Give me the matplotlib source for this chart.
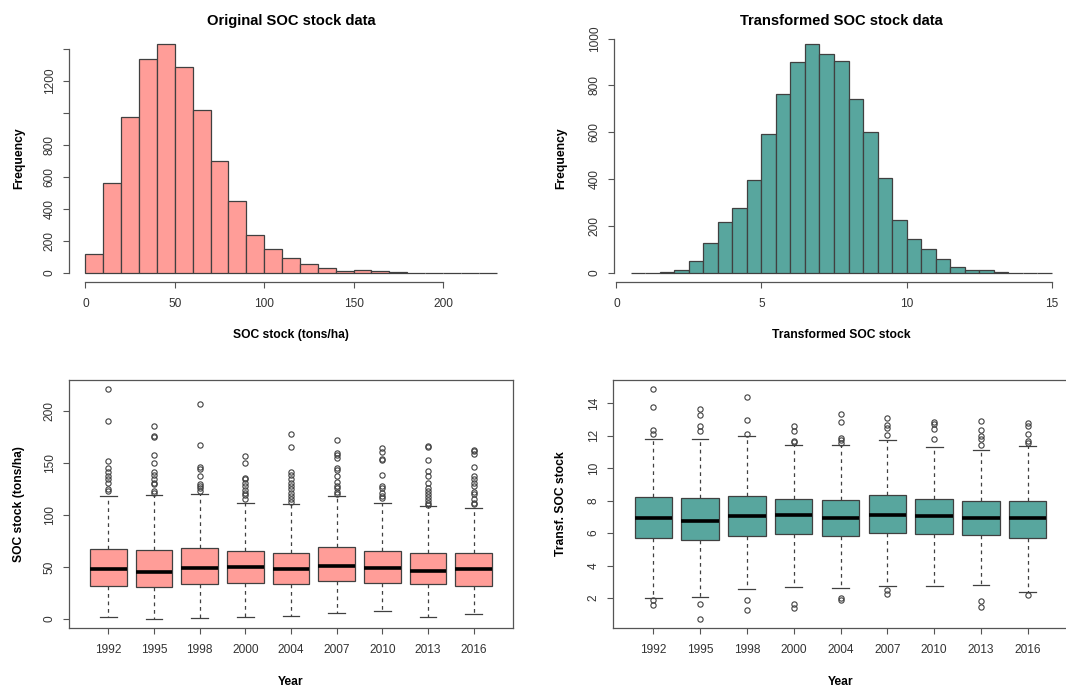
import numpy as np
import matplotlib
matplotlib.use('Agg')
import matplotlib.pyplot as plt

plt.rcParams['font.family'] = ['Liberation Sans', 'DejaVu Sans']

# histogram data (bin breaks + counts)
soc_breaks = list(range(0, 240, 10))
soc_counts = [115, 565, 975, 1337, 1431, 1290, 1017, 702, 450, 235, 148, 92,
              58, 29, 10, 17, 10, 4, 1, 0, 1, 0, 1]
tr_breaks = [0.5 + 0.5 * i for i in range(30)]
tr_counts = [0, 1, 3, 11, 50, 128, 219, 276, 398, 591, 763, 898, 976, 935, 906,
             744, 599, 403, 227, 146, 101, 57, 26, 13, 13, 2, 0, 0, 1]

years = ['1992', '1995', '1998', '2000', '2004', '2007', '2010', '2013', '2016']

# boxplot stats, original SOC stock
soc_q1 = [31.9, 31.2, 33.5, 34.8, 33.5, 36.7, 34.8, 34.1, 31.9]
soc_med = [47.7, 45.4, 49.0, 50.2, 47.7, 50.6, 49.0, 46.7, 47.7]
soc_q3 = [67.0, 66.3, 68.3, 65.4, 64.0, 69.2, 65.4, 64.0, 63.1]
soc_lo = [2.3, 0.3, 1.3, 1.9, 3.2, 5.5, 7.7, 1.9, 4.5]
soc_hi = [117.9, 119.5, 120.0, 111.4, 110.8, 118.5, 111.4, 108.9, 106.6]
soc_out = [
    [221, 190, 152, 145, 141, 138, 135, 131, 125, 123],
    [186, 176, 175, 158, 150, 141, 138.5, 134.6, 131, 130, 123, 121.7],
    [207, 167, 146.5, 144, 138, 130, 128, 125.6, 123],
    [157, 150, 136, 134.6, 131, 128, 124, 121.7, 119, 115.3],
    [178, 165, 141, 138.5, 134.6, 131, 128, 125, 121.7, 118.5, 115.3, 112.7],
    [172, 160, 157.8, 154.6, 145, 143.6, 138, 132, 128, 126, 122.4, 119.8],
    [164, 160.7, 154, 152.7, 138.5, 127.5, 125.6, 121.7, 118.5, 116],
    [166, 165, 153, 142, 138, 130.8, 125.6, 123, 120.4, 117, 114.7, 111.4, 109.5],
    [163, 162, 158.5, 146.5, 138, 134.6, 131, 128, 122.4, 120.4, 115.3, 112, 110.8],
]

# boxplot stats, transformed SOC stock
tr_q1 = [5.67, 5.59, 5.81, 5.96, 5.81, 6.00, 5.96, 5.86, 5.67]
tr_med = [6.91, 6.76, 7.03, 7.13, 6.91, 7.13, 7.03, 6.91, 6.91]
tr_q3 = [8.21, 8.16, 8.29, 8.10, 8.06, 8.33, 8.10, 8.00, 7.96]
tr_lo = [2.02, 2.06, 2.56, 2.70, 2.62, 2.76, 2.76, 2.80, 2.39]
tr_hi = [11.83, 11.83, 11.98, 11.40, 11.40, 11.75, 11.32, 11.15, 11.36]
tr_out = [
    [14.87, 13.79, 12.35, 12.1, 1.9, 1.57],
    [13.65, 13.28, 12.58, 12.29, 1.63, 0.72],
    [14.39, 12.95, 12.12, 1.9, 1.24],
    [12.58, 12.29, 11.69, 11.59, 1.63, 1.36],
    [13.36, 12.85, 11.88, 11.75, 11.55, 1.98, 1.9],
    [13.11, 12.66, 12.49, 12.04, 2.52, 2.27],
    [12.87, 12.7, 12.41, 11.77],
    [12.9, 12.37, 11.96, 11.77, 11.42, 1.84, 1.46],
    [12.78, 12.62, 12.08, 11.69, 11.55, 2.2],
]

pink = '#FF9D98'
teal = '#58A69E'
edge = '#404040'
tickc = '#333333'

W, H = 1066, 687
fig = plt.figure(figsize=(W / 100, H / 100), dpi=100)


def px_axes(left, right, top, bottom):
    return fig.add_axes([left / W, (H - bottom) / H, (right - left) / W, (bottom - top) / H])


def style_ticks(ax):
    ax.tick_params(direction='out', length=4.5, width=0.8, color='#555555',
                   labelcolor=tickc, labelsize=8.6)
    ax.tick_params(axis='x', pad=7)
    ax.tick_params(axis='y', pad=5)
    for lab in ax.get_yticklabels():
        lab.set_rotation(90)
        lab.set_va('center')


def hist_panel(ax, breaks, counts, color, xticks, yticks, ylabs, title, xlabel, ylab_x):
    breaks = np.asarray(breaks)
    ax.bar(breaks[:-1], counts, width=np.diff(breaks), align='edge', color=color,
           edgecolor=edge, linewidth=0.9)
    span = breaks[-1] - breaks[0]
    ax.set_xlim(breaks[0] - 0.04 * span, breaks[-1] + 0.04 * span)
    ymax = max(counts)
    ax.set_ylim(-0.04 * ymax, 1.04 * ymax)
    for s in ['top', 'right']:
        ax.spines[s].set_visible(False)
    for s in ['left', 'bottom']:
        ax.spines[s].set_color('#555555')
        ax.spines[s].set_linewidth(0.9)
    ax.set_xticks(xticks)
    ax.set_yticks(yticks)
    ax.set_yticklabels(ylabs)
    ax.spines['bottom'].set_bounds(xticks[0], xticks[-1])
    ax.spines['left'].set_bounds(yticks[0], yticks[-1])
    style_ticks(ax)
    ax.set_title(title, fontsize=10.6, fontweight='bold', pad=7)
    ax.set_xlabel(xlabel, fontsize=8.7, fontweight='bold', va='center')
    ax.xaxis.set_label_coords(0.5, -53 / 247)
    ax.set_ylabel('Frequency', fontsize=8.7, fontweight='bold', va='center')
    ax.yaxis.set_label_coords(ylab_x, 0.5)


def box_panel(ax, q1, med, q3, lo, hi, out, color, ylabel, yticks, ylab_x):
    stats = []
    for i in range(len(years)):
        stats.append({'q1': q1[i], 'med': med[i], 'q3': q3[i], 'whislo': lo[i],
                      'whishi': hi[i], 'fliers': out[i], 'label': years[i]})
    ax.bxp(stats, widths=0.8, patch_artist=True, capwidths=0.36,
           boxprops=dict(facecolor=color, edgecolor=edge, linewidth=0.9),
           medianprops=dict(color='black', linewidth=2.6, solid_capstyle='butt'),
           whiskerprops=dict(color=edge, linewidth=0.9, linestyle=(0, (3, 3))),
           capprops=dict(color=edge, linewidth=0.9),
           flierprops=dict(marker='o', markersize=3.8, markerfacecolor='none',
                           markeredgecolor=edge, markeredgewidth=0.8))
    ax.set_xlim(0.14, 9.86)
    allv = lo + hi + [v for o in out for v in o]
    vmin, vmax = min(allv), max(allv)
    ax.set_ylim(vmin - 0.04 * (vmax - vmin), vmax + 0.04 * (vmax - vmin))
    ax.set_yticks(yticks)
    for s in ax.spines.values():
        s.set_color('#555555')
        s.set_linewidth(0.9)
    style_ticks(ax)
    ax.set_xlabel('Year', fontsize=8.7, fontweight='bold', va='center')
    ax.xaxis.set_label_coords(0.5, -54 / 248)
    ax.set_ylabel(ylabel, fontsize=8.7, fontweight='bold', va='center')
    ax.yaxis.set_label_coords(ylab_x, 0.5)


ax1 = px_axes(69, 513, 35, 282)
hist_panel(ax1, soc_breaks, soc_counts, pink, [0, 50, 100, 150, 200],
           [0, 200, 400, 600, 800, 1000, 1200, 1400],
           ['0', '200', '400', '600', '800', '', '1200', ''],
           'Original SOC stock data', 'SOC stock (tons/ha)', (19 - 69) / 444)

ax2 = px_axes(614, 1068.5, 35, 282)
hist_panel(ax2, tr_breaks, tr_counts, teal, [0, 5, 10, 15],
           [0, 200, 400, 600, 800, 1000],
           ['0', '200', '400', '600', '800', '1000'],
           'Transformed SOC stock data', 'Transformed SOC stock', (561 - 614) / 454.5)
ax2.set_xlim(-0.08, 15.58)

ax3 = px_axes(69, 513, 380, 628)
box_panel(ax3, soc_q1, soc_med, soc_q3, soc_lo, soc_hi, soc_out, pink,
          'SOC stock (tons/ha)', [0, 50, 100, 150, 200], (19 - 69) / 444)

ax4 = px_axes(613, 1068, 380, 628)
box_panel(ax4, tr_q1, tr_med, tr_q3, tr_lo, tr_hi, tr_out, teal,
          'Transf. SOC stock', [2, 4, 6, 8, 10, 12, 14], (561 - 613) / 455)

fig.savefig('out.png', dpi=100)
